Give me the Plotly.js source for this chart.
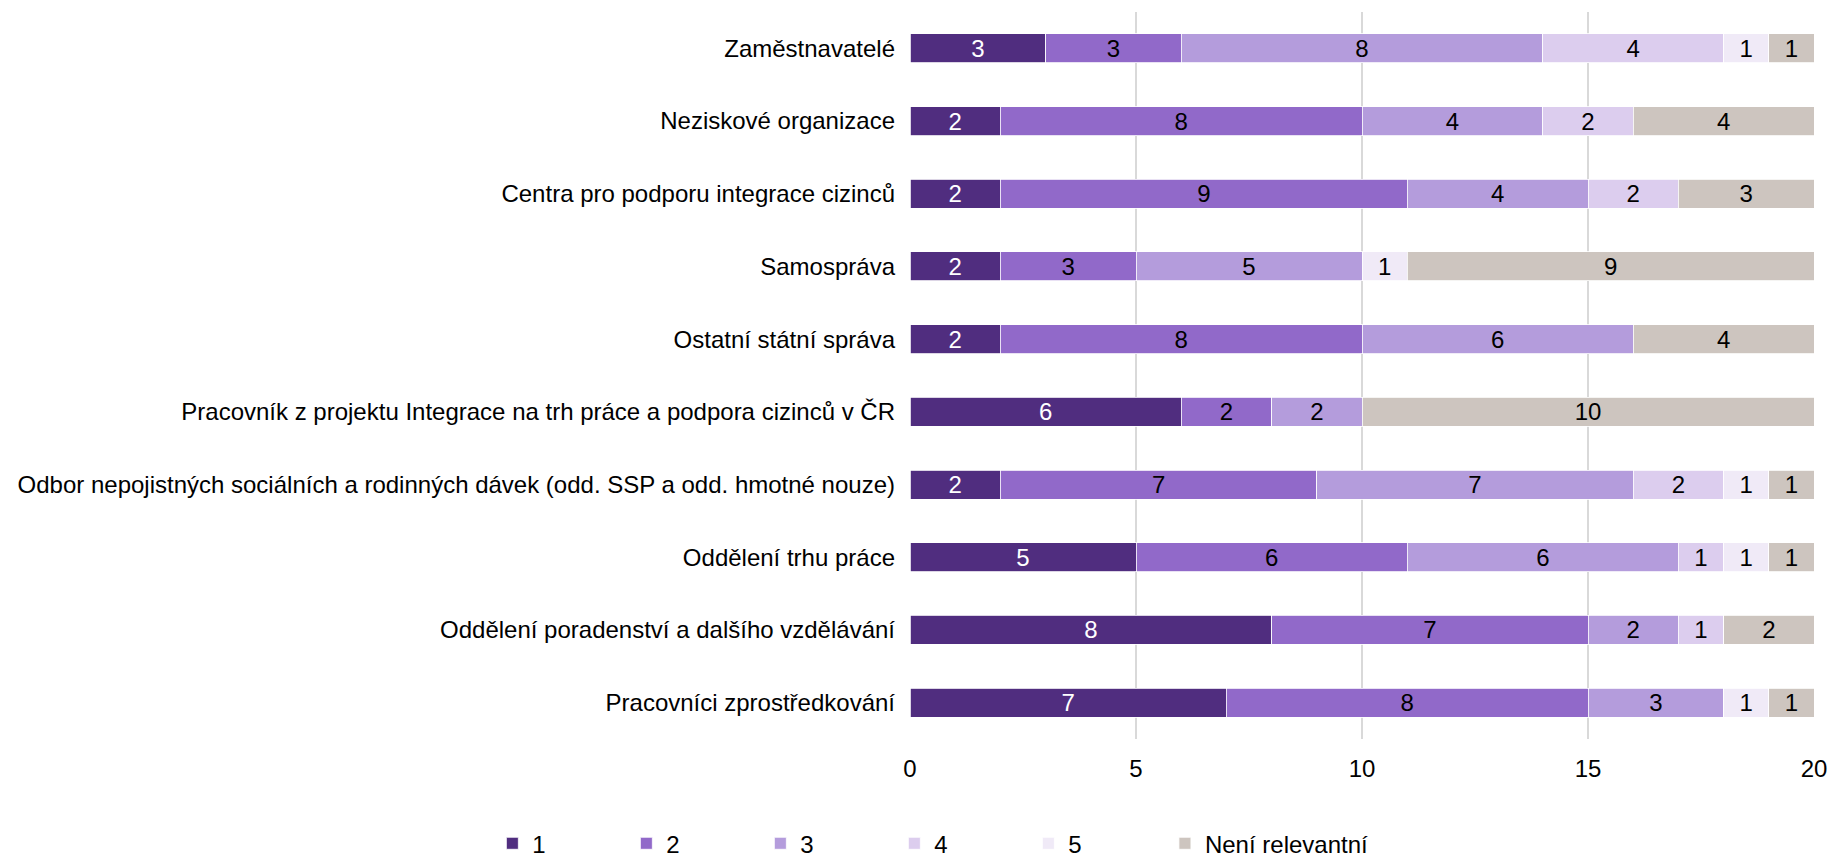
<!DOCTYPE html>
<html>
<head>
<meta charset="utf-8">
<script src="https://cdn.plot.ly/plotly-3.0.1.min.js"></script>
<style>html,body{margin:0;padding:0;background:#fff;}#chart{width:1832px;height:859px;}</style>
</head>
<body>
<div id="chart"></div>
<script>
// Categories listed top to bottom
const categories = [
  "Zaměstnavatelé",
  "Neziskové organizace",
  "Centra pro podporu integrace cizinců",
  "Samospráva",
  "Ostatní státní správa",
  "Pracovník z projektu Integrace na trh práce a podpora cizinců v ČR",
  "Odbor nepojistných sociálních a rodinných dávek (odd. SSP a odd. hmotné nouze)",
  "Oddělení trhu práce",
  "Oddělení poradenství a dalšího vzdělávání",
  "Pracovníci zprostředkování"
];
const seriesNames = ["1", "2", "3", "4", "5", "Není relevantní"];
const s1 = [3, 2, 2, 2, 2, 6, 2, 5, 8, 7];
const s2 = [3, 8, 9, 3, 8, 2, 7, 6, 7, 8];
const s3 = [8, 4, 4, 5, 6, 2, 7, 6, 2, 3];
const s4 = [4, 2, 2, 0, 0, 0, 2, 1, 1, 0];
const s5 = [1, 0, 0, 1, 0, 0, 1, 1, 0, 1];
const sN = [1, 4, 3, 9, 4, 10, 1, 1, 2, 1];
const xTicks = [0, 5, 10, 15, 20];

const colors = ["#502d7f", "#9169c9", "#b49cdc", "#dccdee", "#f0eaf7", "#cdc5bf"];
const textColors = ["#ffffff", "#000000", "#000000", "#000000", "#000000", "#000000"];
const allSeries = [s1, s2, s3, s4, s5, sN];
const FONT = "Liberation Sans, Arial, sans-serif";

const traces = allSeries.map((vals, i) => ({
  type: "bar",
  orientation: "h",
  name: seriesNames[i],
  legend: i < 5 ? "legend" : "legend2",
  y: categories,
  x: vals,
  text: vals.map(v => v > 0 ? String(v) : ""),
  textposition: "inside",
  insidetextanchor: "middle",
  textangle: 0,
  textfont: {family: FONT, size: 24, color: textColors[i]},
  constraintext: "none",
  marker: {color: colors[i], line: {color: "#ffffff", width: 0.8}},
  hoverinfo: "name+x"
}));

const legendBase = {
  orientation: "h",
  xanchor: "left",
  y: -0.144,
  yanchor: "middle",
  traceorder: "normal",
  font: {family: FONT, size: 24, color: "#000000"},
  itemclick: false,
  itemdoubleclick: false,
  bgcolor: "rgba(0,0,0,0)",
  borderwidth: 0
};

const layout = {
  width: 1832,
  height: 859,
  barmode: "stack",
  bargap: 0.6,
  paper_bgcolor: "#ffffff",
  plot_bgcolor: "#ffffff",
  margin: {l: 910, r: 18, t: 12, b: 120, pad: 0, autoexpand: false},
  font: {family: FONT, size: 24, color: "#000000"},
  xaxis: {
    range: [0, 20],
    tickvals: xTicks,
    ticktext: xTicks.map(String),
    showgrid: true,
    gridcolor: "#d9d9d9",
    gridwidth: 2,
    zeroline: false,
    showline: false,
    ticks: "",
    ticklabelstandoff: 13,
    tickfont: {size: 24, color: "#000000"},
    automargin: false,
    fixedrange: true
  },
  yaxis: {
    categoryorder: "array",
    categoryarray: categories.slice().reverse(),
    autorange: true,
    showgrid: false,
    zeroline: false,
    showline: false,
    ticks: "",
    ticklabelstandoff: 14,
    tickfont: {size: 24, color: "#000000"},
    automargin: false,
    fixedrange: true
  },
  showlegend: true,
  legend: Object.assign({}, legendBase, {x: -0.462, entrywidth: 89, entrywidthmode: "pixels"}),
  legend2: Object.assign({}, legendBase, {x: 0.282})
};

Plotly.newPlot("chart", traces, layout, {displayModeBar: false, staticPlot: true});
</script>
</body>
</html>
